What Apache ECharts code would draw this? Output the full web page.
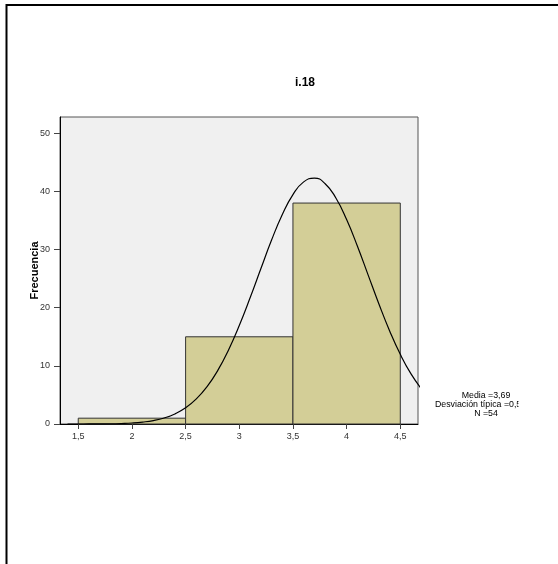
<!DOCTYPE html>
<html>
<head>
<meta charset="utf-8">
<script src="https://cdn.jsdelivr.net/npm/echarts@6/dist/echarts.min.js"></script>
<style>
html,body{margin:0;padding:0;background:#fff;}
#chart{width:558px;height:564px;}
</style>
</head>
<body>
<div id="chart"></div>
<script>
// Histogram bins (i.18)
const binStarts = [1.5, 2.5, 3.5];
const binEnds = [2.5, 3.5, 4.5];
const frequencies = [1, 15, 38];

// Normal curve points
const curveX = [1.4, 1.5, 1.6, 1.7, 1.8, 1.9, 2.0, 2.1, 2.2, 2.3, 2.4, 2.5, 2.6, 2.7, 2.8, 2.9, 3.0, 3.1, 3.2, 3.3, 3.4, 3.5, 3.6, 3.7, 3.8, 3.9, 4.0, 4.1, 4.2, 4.3, 4.4, 4.5, 4.6, 4.7];
const curveY = [0.0, 0.0, 0.01, 0.02, 0.04, 0.09, 0.17, 0.33, 0.59, 1.03, 1.73, 2.78, 4.31, 6.43, 9.22, 12.74, 16.94, 21.66, 26.65, 31.59, 35.99, 39.46, 41.64, 42.29, 41.33, 38.87, 35.16, 30.62, 25.65, 20.69, 16.05, 11.98, 8.61, 5.96];

// Axis ticks
const xTicks = [1.5, 2, 2.5, 3, 3.5, 4, 4.5];
const yTicks = [0, 10, 20, 30, 40, 50];

// Texts
const titleText = 'i.18';
const yAxisTitle = 'Frecuencia';
const statsLines = ['Media =3,69', 'Desviación típica =0,509', 'N =54'];

const barData = binStarts.map((s, i) => [s, binEnds[i], frequencies[i]]);
const curveData = curveX.map((x, i) => [x, curveY[i]]);

const fmt = v => String(v).replace('.', ',');
const FONT = 'Liberation Sans, Arial, sans-serif';

const chart = echarts.init(document.getElementById('chart'), null, {renderer: 'canvas'});
chart.setOption({
  animation: false,
  backgroundColor: '#ffffff',
  textStyle: {fontFamily: FONT},
  grid: {
    left: 60, right: 140, top: 117, bottom: 140,
    show: true,
    backgroundColor: '#F0F0F0',
    borderColor: '#555555',
    borderWidth: 1
  },
  xAxis: {
    type: 'value',
    min: 1.33,
    max: 4.665,
    splitLine: {show: false},
    axisLine: {show: true, onZero: false, lineStyle: {color: '#000', width: 1}},
    axisTick: {show: true, customValues: xTicks, length: 5, lineStyle: {color: '#444'}},
    axisLabel: {
      customValues: xTicks,
      formatter: v => fmt(v),
      fontSize: 9, color: '#333', margin: 8,
      fontFamily: FONT
    }
  },
  yAxis: {
    type: 'value',
    min: 0,
    max: 52.8,
    name: yAxisTitle,
    nameLocation: 'middle',
    nameRotate: 90,
    nameGap: 20,
    nameMoveOverlap: false,
    nameTextStyle: {fontSize: 11, fontWeight: 'bold', color: '#000', fontFamily: FONT},
    splitLine: {show: false},
    axisLine: {show: true, lineStyle: {color: '#000', width: 1}},
    axisTick: {show: true, customValues: yTicks, length: 6, lineStyle: {color: '#444'}},
    axisLabel: {
      customValues: yTicks,
      fontSize: 9, color: '#333', margin: 10,
      fontFamily: FONT
    }
  },
  series: [
    {
      type: 'custom',
      data: barData,
      encode: {x: [0, 1], y: 2},
      renderItem: function (params, api) {
        const p0 = api.coord([api.value(0), api.value(2)]);
        const p1 = api.coord([api.value(1), 0]);
        return {
          type: 'rect',
          shape: {x: p0[0], y: p0[1], width: p1[0] - p0[0], height: p1[1] - p0[1]},
          style: {fill: '#D3CE97', stroke: '#333333', lineWidth: 1}
        };
      },
      z: 2
    },
    {
      type: 'line',
      data: curveData,
      smooth: true,
      showSymbol: false,
      clip: true,
      lineStyle: {color: '#000', width: 1.2},
      z: 3
    }
  ],
  graphic: [
    {type: 'line', shape: {x1: 6, y1: 5, x2: 558, y2: 5}, style: {stroke: '#000', lineWidth: 2}},
    {type: 'line', shape: {x1: 6.5, y1: 4, x2: 6.5, y2: 564}, style: {stroke: '#000', lineWidth: 2}},
    {type: 'text', x: 305, y: 83, style: {text: titleText, fill: '#000', font: 'bold 12px ' + FONT, align: 'center', verticalAlign: 'middle'}},
    {type: 'text', x: 486, y: 396, style: {text: statsLines[0], fill: '#000', font: '8.8px ' + FONT, align: 'center', verticalAlign: 'middle'}},
    {type: 'text', x: 483, y: 405, style: {text: statsLines[1], fill: '#000', font: '8.8px ' + FONT, align: 'center', verticalAlign: 'middle'}},
    {type: 'text', x: 486, y: 414, style: {text: statsLines[2], fill: '#000', font: '8.8px ' + FONT, align: 'center', verticalAlign: 'middle'}},
    {type: 'rect', shape: {x: 518.5, y: 399, width: 40, height: 11}, style: {fill: '#ffffff'}, z: 100}
  ]
});
</script>
</body>
</html>
